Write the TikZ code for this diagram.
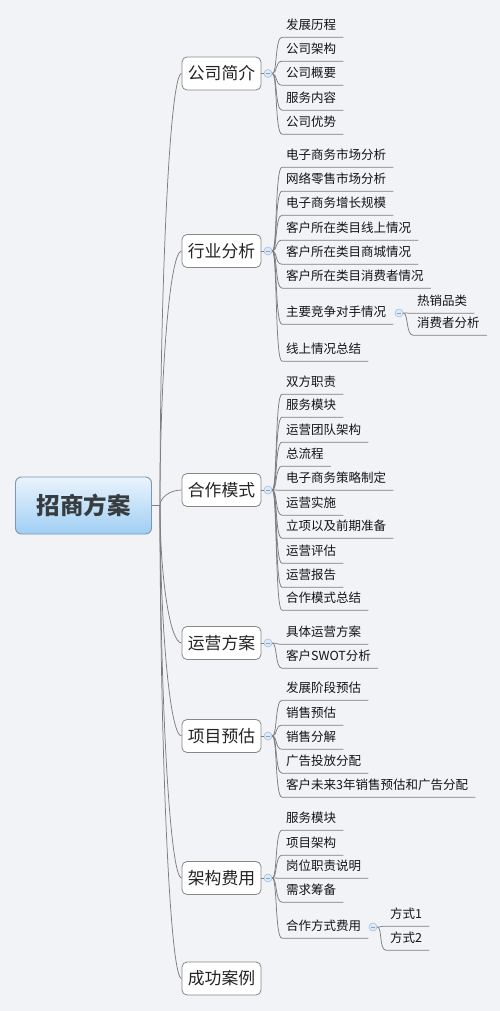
\documentclass[tikz,border=0pt]{standalone}
\usepackage{fontspec}
\setmainfont{Noto Sans CJK SC}
\usetikzlibrary{calc}
\definecolor{bgc}{RGB}{241,243,247}
\definecolor{linec}{RGB}{125,125,125}
\definecolor{boxborder}{RGB}{135,135,135}
\definecolor{roottop}{RGB}{234,244,253}
\definecolor{rootbot}{RGB}{160,206,244}
\definecolor{rootborder}{RGB}{125,150,178}
\definecolor{roottext}{RGB}{55,60,64}
\definecolor{topictext}{RGB}{35,35,35}
\definecolor{leaftext}{RGB}{20,20,20}
\definecolor{mfill}{RGB}{221,233,245}
\definecolor{mborder}{RGB}{165,192,218}
\definecolor{mminus}{RGB}{130,165,200}
\newcommand\kid[5][286]{%
  \node[leaf] (#3) at (#1,#4) {#5};
  \draw[conn] (#2.east) .. controls +(5pt,0) and +(-7pt,0) .. ($(#3.south west)+(-4pt,0)$) -- ($(#3.south east)+(7pt,0)$);}
\begin{document}
\begin{tikzpicture}[x=1pt,y=-1pt,
  conn/.style={draw=linec,line width=0.75pt},
  rootbox/.style={rectangle,rounded corners=6pt,draw=rootborder,line width=0.9pt,
    top color=roottop,bottom color=rootbot,minimum width=136pt,minimum height=57pt,
    font=\fontsize{23.5}{25}\selectfont\bfseries,text=roottext},
  topic/.style={rectangle,rounded corners=5pt,draw=boxborder,fill=white,line width=0.8pt,
    minimum width=79pt,minimum height=33pt,inner sep=0pt,
    font=\fontsize{16.8}{18}\selectfont,text=topictext},
  leaf/.style={anchor=west,inner xsep=0pt,inner ysep=0pt,minimum height=24pt,
    font=\fontsize{12.5}{14}\selectfont,text=leaftext},
  marker/.style={circle,draw=mborder,fill=mfill,line width=0.6pt,minimum size=8pt,inner sep=0pt,
    path picture={\draw[mminus,line width=0.8pt]
      ([xshift=-2.2pt]path picture bounding box.center) -- ([xshift=2.2pt]path picture bounding box.center);}}
]
\useasboundingbox (0,0) rectangle (500,1011);
\fill[bgc] (0,0) rectangle (500,1011);

% root
\node[rootbox] (root) at (83.5,505.5) {招商方案};
\coordinate (rj) at (160,505.5);
\draw[conn] (root.east) -- (rj);

% level 1
\node[topic] (t1) at (221.5,73.5) {公司简介};
\node[topic] (t2) at (221.5,251) {行业分析};
\node[topic] (t3) at (221.5,490) {合作模式};
\node[topic] (t4) at (221.5,643) {运营方案};
\node[topic] (t5) at (221.5,736) {项目预估};
\node[topic] (t6) at (221.5,878) {架构费用};
\node[topic] (t7) at (221.5,978.5) {成功案例};

\foreach \t in {t1,t2,t3,t4,t5,t6,t7}{
  \draw[conn] (rj) .. controls ($(rj)!0.5!(rj|-\t.west)$) and ($(\t.west)+(-12pt,0)$) .. (\t.west);
}

% markers
\node[marker] (m1) at (268,73.5) {};
\node[marker] (m2) at (268,251) {};
\node[marker] (m3) at (268,490) {};
\node[marker] (m4) at (268,643) {};
\node[marker] (m5) at (268,736) {};
\node[marker] (m6) at (268,878) {};
\foreach \i in {1,...,6}{ \draw[conn] (t\i.east) -- (m\i.west); }

% 公司简介
\kid{m1}{a1}{25}{发展历程}
\kid{m1}{a2}{49}{公司架构}
\kid{m1}{a3}{73}{公司概要}
\kid{m1}{a4}{98}{服务内容}
\kid{m1}{a5}{122}{公司优势}

% 行业分析
\kid{m2}{b1}{155}{电子商务市场分析}
\kid{m2}{b2}{179}{网络零售市场分析}
\kid{m2}{b3}{203}{电子商务增长规模}
\kid{m2}{b4}{228}{客户所在类目线上情况}
\kid{m2}{b5}{252}{客户所在类目商城情况}
\kid{m2}{b6}{276}{客户所在类目消费者情况}
\kid{m2}{b7}{312}{主要竞争对手情况}
\kid{m2}{b8}{349}{线上情况总结}
\node[marker] (m2b) at (399,313) {};
\kid[417]{m2b}{b71}{301}{热销品类}
\kid[417]{m2b}{b72}{323}{消费者分析}

% 合作模式
\kid{m3}{c1}{382}{双方职责}
\kid{m3}{c2}{405}{服务模块}
\kid{m3}{c3}{430}{运营团队架构}
\kid{m3}{c4}{454}{总流程}
\kid{m3}{c5}{478}{电子商务策略制定}
\kid{m3}{c6}{503}{运营实施}
\kid{m3}{c7}{526}{立项以及前期准备}
\kid{m3}{c8}{551}{运营评估}
\kid{m3}{c9}{575}{运营报告}
\kid{m3}{c10}{598}{合作模式总结}

% 运营方案
\kid{m4}{d1}{632}{具体运营方案}
\kid{m4}{d2}{656}{客户SWOT分析}

% 项目预估
\kid{m5}{e1}{688}{发展阶段预估}
\kid{m5}{e2}{713}{销售预估}
\kid{m5}{e3}{737}{销售分解}
\kid{m5}{e4}{761}{广告投放分配}
\kid{m5}{e5}{785}{客户未来3年销售预估和广告分配}

% 架构费用
\kid{m6}{f1}{818}{服务模块}
\kid{m6}{f2}{843}{项目架构}
\kid{m6}{f3}{866}{岗位职责说明}
\kid{m6}{f4}{890}{需求筹备}
\kid{m6}{f5}{926}{合作方式费用}
\node[marker] (m6b) at (373,927) {};
\kid[390]{m6b}{f51}{914}{方式1}
\kid[390]{m6b}{f52}{938}{方式2}
\end{tikzpicture}
\end{document}
